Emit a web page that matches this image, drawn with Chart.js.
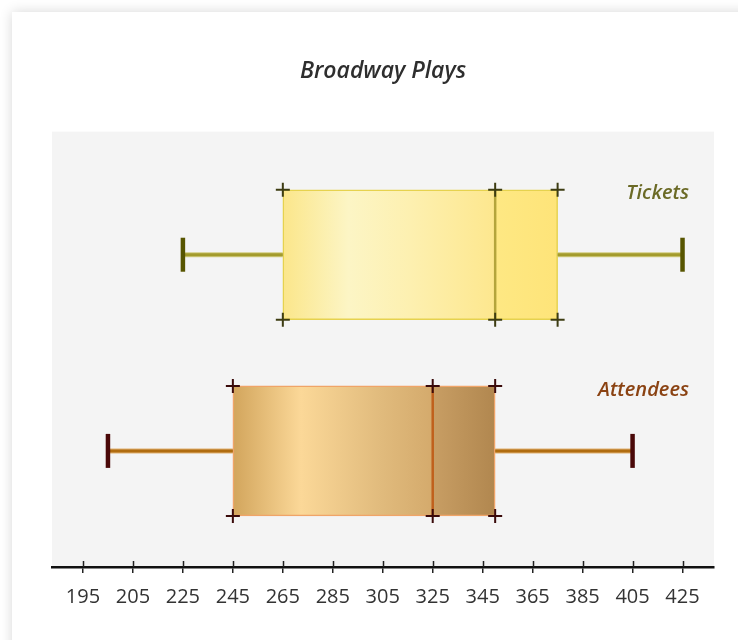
<!DOCTYPE html>
<html>
<head>
<meta charset="utf-8">
<script src="https://cdn.jsdelivr.net/npm/chart.js@4.4.1/dist/chart.umd.min.js"></script>
<style>
  body { margin: 0; background: #fff; overflow: hidden; }
  .card { position: absolute; left: 12px; top: 12px; width: 760px; height: 680px; background: #fff; box-shadow: 0 0 12px rgba(0,0,0,0.16); }
  #boxChart { position: absolute; left: 0; top: 0; }
</style>
</head>
<body>
<div class="card"></div>
<canvas id="boxChart" width="738" height="640"></canvas>
<script>
    var categories = ['Tickets', 'Attendees'];
    var tickLabels = [195, 205, 225, 245, 265, 285, 305, 325, 345, 365, 385, 405, 425];
    var minValues = [225, 200];
    var q1Values = [265, 245];
    var medianValues = [350, 325];
    var q3Values = [375, 350];
    var maxValues = [425, 405];
    var rowPositions = [1, 2];

    // colours for each box
    var styles = [
        {
            left: [[0, '#fbe68a'], [0.31, '#fcf5c5'], [0.6, '#fdf0b0'], [1, '#fde78e']],
            right: [[0, '#fee883'], [1, '#fee479']],
            border: '#e6d24e', median: '#b4a53c', whisker: '#a39b2c', whiskerEdge: '#d2cc80',
            cap: '#575500', cross: '#3d3c12', label: '#6b6a26'
        },
        {
            left: [[0, '#d2a55c'], [0.34, '#fbd898'], [0.75, '#e0ba7c'], [1, '#d4aa6c']],
            right: [[0, '#c89e64'], [1, '#b1874f']],
            border: '#f0a468', median: '#c0601c', whisker: '#b06c10', whiskerEdge: '#e0b070',
            cap: '#4a0808', cross: '#3a0a0a', label: '#8a4212'
        }
    ];

    // the tick labels are evenly spaced but not evenly valued,
    // so values are placed by their position between tick labels
    function toAxis(v) {
        for (var i = 0; i < tickLabels.length - 1; i++) {
            if (v <= tickLabels[i + 1]) {
                return i + (v - tickLabels[i]) / (tickLabels[i + 1] - tickLabels[i]);
            }
        }
        return tickLabels.length - 1;
    }

    function boxFill(context) {
        var chart = context.chart;
        var i = context.dataIndex;
        var st = styles[i];
        if (!chart.chartArea) return st.right[0][1];
        var x = chart.scales.x;
        var x0 = x.getPixelForValue(toAxis(q1Values[i]));
        var xm = x.getPixelForValue(toAxis(medianValues[i]));
        var x1 = x.getPixelForValue(toAxis(q3Values[i]));
        var f = (xm - x0) / (x1 - x0);
        var g = chart.ctx.createLinearGradient(x0, 0, x1, 0);
        st.left.forEach(function (s) { g.addColorStop(s[0] * f, s[1]); });
        st.right.forEach(function (s) { g.addColorStop(f + s[0] * (1 - f), s[1]); });
        return g;
    }

    var boxExtras = {
        id: 'boxExtras',
        beforeDraw: function (chart) {
            var a = chart.chartArea, c = chart.ctx;
            c.save();
            c.fillStyle = '#f4f4f4';
            c.fillRect(a.left, a.top, a.right - a.left, a.bottom - a.top);
            c.restore();
        },
        afterDatasetsDraw: function (chart) {
            var c = chart.ctx, x = chart.scales.x, y = chart.scales.y;
            var meta = chart.getDatasetMeta(0);
            c.save();
            categories.forEach(function (name, i) {
                var st = styles[i];
                var bar = meta.data[i];
                var yc = y.getPixelForValue(rowPositions[i]);
                var top = yc - bar.height / 2, bottom = yc + bar.height / 2;
                var px = function (v) { return x.getPixelForValue(toAxis(v)); };
                var xmin = px(minValues[i]), xq1 = px(q1Values[i]), xmed = px(medianValues[i]);
                var xq3 = px(q3Values[i]), xmax = px(maxValues[i]);

                // whiskers
                [[xmin, xq1], [xq3, xmax]].forEach(function (seg) {
                    c.lineCap = 'butt';
                    c.strokeStyle = st.whiskerEdge; c.lineWidth = 5;
                    c.beginPath(); c.moveTo(seg[0], yc); c.lineTo(seg[1], yc); c.stroke();
                    c.strokeStyle = st.whisker; c.lineWidth = 3;
                    c.beginPath(); c.moveTo(seg[0], yc); c.lineTo(seg[1], yc); c.stroke();
                });
                [xmin, xmax].forEach(function (xx) {
                    c.strokeStyle = st.cap; c.lineWidth = 4.5;
                    c.beginPath(); c.moveTo(xx, yc - 17); c.lineTo(xx, yc + 17); c.stroke();
                });

                // median
                c.strokeStyle = st.median; c.lineWidth = 2.5;
                c.beginPath(); c.moveTo(xmed, top); c.lineTo(xmed, bottom); c.stroke();

                // crosses on the box corners and median ends
                c.strokeStyle = st.cross; c.lineWidth = 2;
                [xq1, xmed, xq3].forEach(function (xx) {
                    [top, bottom].forEach(function (yy) {
                        c.beginPath();
                        c.moveTo(xx - 7, yy); c.lineTo(xx + 7, yy);
                        c.moveTo(xx, yy - 7); c.lineTo(xx, yy + 7);
                        c.stroke();
                    });
                });

                // series label
                c.fillStyle = st.label;
                c.font = 'italic 600 20px "Open Sans"';
                c.textAlign = 'right';
                c.textBaseline = 'middle';
                c.fillText(name, chart.chartArea.right - 25, top + 4);
            });

            // upper half of the axis tick marks
            var b = chart.chartArea.bottom;
            c.strokeStyle = '#222'; c.lineWidth = 1.5;
            x.ticks.forEach(function (t, k) {
                var xx = Math.round(x.getPixelForTick(k)) + 0.5;
                c.beginPath(); c.moveTo(xx, b - 6); c.lineTo(xx, b); c.stroke();
            });
            c.restore();
        }
    };

    var ctx = document.getElementById('boxChart').getContext('2d');
    var myChart = new Chart(ctx, {
        type: 'bar',
        data: {
            labels: categories,
            datasets: [{
                data: categories.map(function (n, i) {
                    return { y: rowPositions[i], x: [toAxis(q1Values[i]), toAxis(q3Values[i])] };
                }),
                backgroundColor: boxFill,
                borderColor: styles.map(function (s) { return s.border; }),
                borderWidth: 1.5,
                borderSkipped: false,
                barThickness: 130
            }]
        },
        options: {
            responsive: false,
            animation: false,
            indexAxis: 'y',
            layout: { padding: { left: 52, right: 24, top: 0, bottom: 19 } },
            plugins: {
                legend: { display: false },
                tooltip: { enabled: false },
                title: {
                    display: true,
                    text: 'Broadway Plays',
                    color: '#2e2e2e',
                    font: { family: '"Open Sans"', size: 23, style: 'italic', weight: '600' },
                    padding: { top: 58, bottom: 46 }
                }
            },
            scales: {
                x: {
                    type: 'linear',
                    min: -0.62,
                    max: 12.63,
                    afterBuildTicks: function (scale) {
                        scale.ticks = tickLabels.map(function (t, i) { return { value: i }; });
                    },
                    ticks: {
                        autoSkip: false,
                        maxRotation: 0,
                        padding: 12,
                        color: '#333',
                        font: { family: '"Open Sans"', size: 20 },
                        callback: function (v) { return tickLabels[v]; }
                    },
                    grid: { display: true, drawOnChartArea: false, drawTicks: true, tickLength: 6, color: '#222', lineWidth: 1.5 },
                    border: { display: true, color: '#111', width: 2.5 }
                },
                y: {
                    type: 'linear',
                    display: false,
                    offset: false,
                    bounds: 'data',
                    reverse: true,
                    min: 0.3724,
                    max: 2.5918
                }
            }
        },
        plugins: [boxExtras]
    });
</script>
</body>
</html>
